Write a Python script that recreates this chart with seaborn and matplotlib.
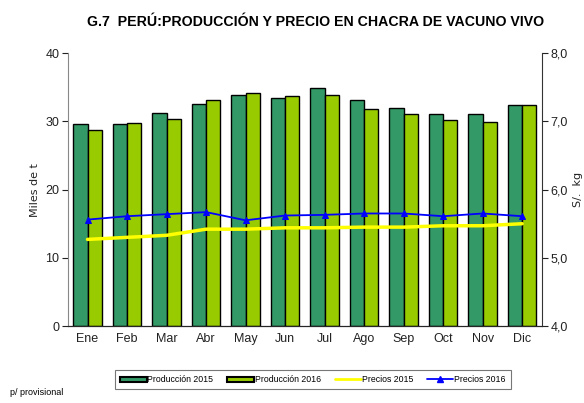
import pandas as pd
import matplotlib
matplotlib.use("Agg")
import matplotlib.pyplot as plt
import seaborn as sns
from matplotlib.patches import Patch
from matplotlib.lines import Line2D

# datos
meses = ["Ene", "Feb", "Mar", "Abr", "May", "Jun", "Jul", "Ago", "Sep", "Oct", "Nov", "Dic"]
prod_2015 = [29.6, 29.6, 31.2, 32.6, 33.9, 33.4, 34.9, 33.1, 32.0, 31.1, 31.1, 32.4]
prod_2016 = [28.8, 29.7, 30.3, 33.1, 34.2, 33.7, 33.9, 31.8, 31.1, 30.2, 29.9, 32.4]
precio_2015 = [5.27, 5.30, 5.33, 5.42, 5.42, 5.44, 5.44, 5.45, 5.45, 5.47, 5.47, 5.50]
precio_2016 = [5.56, 5.61, 5.64, 5.67, 5.55, 5.62, 5.63, 5.65, 5.65, 5.61, 5.65, 5.61]

df_prod = pd.DataFrame({
    "mes": meses * 2,
    "serie": ["Producción 2015"] * 12 + ["Producción 2016"] * 12,
    "valor": prod_2015 + prod_2016,
})
df_precio = pd.DataFrame({"mes": meses, "p2015": precio_2015, "p2016": precio_2016})

sns.set_style("white")
plt.rcParams["font.family"] = ["Liberation Sans", "DejaVu Sans"]
plt.rcParams["text.color"] = "black"
plt.rcParams["axes.labelcolor"] = "#222222"
plt.rcParams["xtick.color"] = "#222222"
plt.rcParams["ytick.color"] = "#222222"

verde1 = "#339966"
verde2 = "#99CC00"

fig = plt.figure(figsize=(5.84, 4.03), dpi=100)
ax = fig.add_axes([0.116, 0.191, 0.812, 0.677])

sns.barplot(data=df_prod, x="mes", y="valor", hue="serie", order=meses,
            palette=[verde1, verde2], saturation=1, width=0.72, edgecolor="black",
            linewidth=1.0, ax=ax, legend=False)
ax.set_xlim(-0.5, 11.5)
ax.set_ylim(0, 40)
ax.set_yticks([0, 10, 20, 30, 40])
ax.set_xlabel("")
ax.set_ylabel("Miles de t", fontsize=8, labelpad=4, family="DejaVu Sans")
ax.tick_params(axis="y", direction="out", length=4, labelsize=9, pad=2)
ax.tick_params(axis="x", length=0, labelsize=9, pad=5)
# marcas entre categorias
ax.set_xticks([i + 0.5 for i in range(-1, 12)], minor=True)
ax.tick_params(axis="x", which="minor", direction="out", length=4)

ax2 = ax.twinx()
sns.lineplot(data=df_precio, x="mes", y="p2015", color="#FFFF00", linewidth=2.5,
             ax=ax2, sort=False)
sns.lineplot(data=df_precio, x="mes", y="p2016", color="#0000FF", linewidth=1.3,
             marker="^", markersize=5, markeredgecolor="#0000FF", ax=ax2, sort=False)
ax2.set_ylim(4.0, 8.0)
ax2.set_yticks([4, 5, 6, 7, 8])
ax2.set_yticklabels(["4,0", "5,0", "6,0", "7,0", "8,0"])
ax2.set_ylabel("S/.  kg", fontsize=8, labelpad=4, family="DejaVu Sans")
ax2.tick_params(axis="y", direction="out", length=4, labelsize=9, pad=2)
ax2.set_xlabel("")

for a in (ax, ax2):
    a.spines["top"].set_visible(False)
ax.spines["left"].set_color("#888888")
ax.spines["right"].set_visible(False)
ax2.spines["left"].set_visible(False)
ax2.spines["right"].set_color("#333333")
ax.spines["bottom"].set_color("black")

fig.text(0.54, 0.945, "G.7  PERÚ:PRODUCCIÓN Y PRECIO EN CHACRA DE VACUNO VIVO",
         ha="center", va="center", fontsize=10.2, fontweight="bold", color="black")

handles = [
    Patch(facecolor=verde1, edgecolor="black", linewidth=1.5),
    Patch(facecolor=verde2, edgecolor="black", linewidth=1.5),
    Line2D([], [], color="#FFFF00", linewidth=2),
    Line2D([], [], color="#0000FF", linewidth=1.3, marker="^", markersize=4),
]
labels = ["Producción 2015", "Producción 2016", "Precios 2015", "Precios 2016"]
leg = fig.legend(handles, labels, loc="center", bbox_to_anchor=(0.536, 0.058), ncol=4,
                 fontsize=6.3, frameon=True, fancybox=False, edgecolor="#555555",
                 handlelength=3.0, handleheight=0.5, handletextpad=0.1,
                 columnspacing=1.6, borderpad=0.6)
leg.get_frame().set_linewidth(0.8)

fig.text(0.017, 0.015, "p/ provisional", fontsize=6.5, ha="left", va="bottom")

plt.savefig("out.png", dpi=100)
